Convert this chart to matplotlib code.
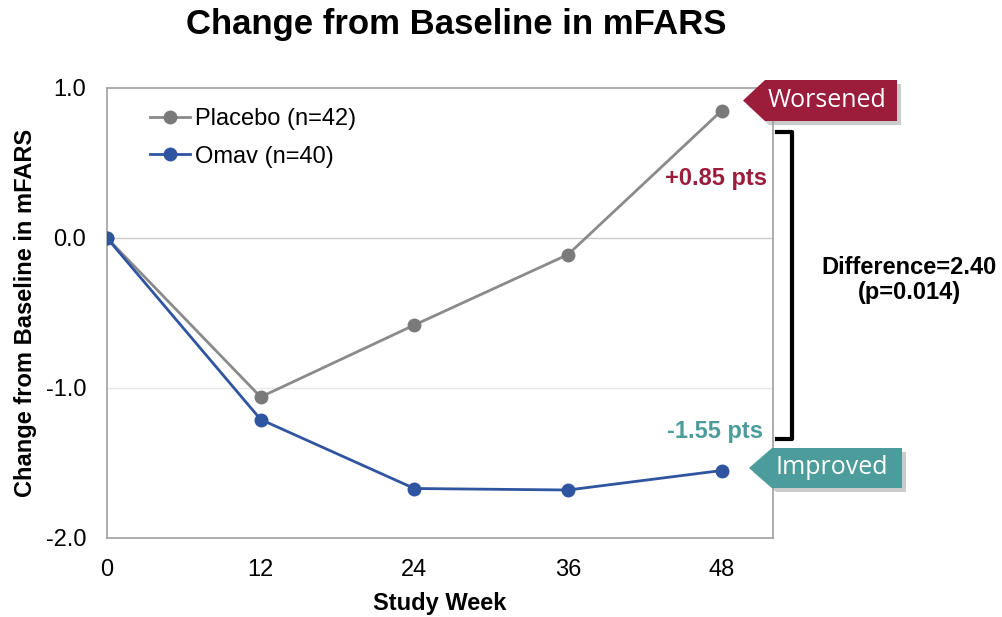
import matplotlib
matplotlib.use("Agg")
import matplotlib.pyplot as plt
from matplotlib.patches import Polygon

plt.rcParams['font.family'] = ['Liberation Sans', 'DejaVu Sans']

# data
weeks = [0, 12, 24, 36, 48]
placebo = [0.0, -1.06, -0.58, -0.11, 0.85]
omav = [0.0, -1.21, -1.67, -1.68, -1.55]
yticks = [1.0, 0.0, -1.0, -2.0]
W, H = 1003, 617

fig = plt.figure(figsize=(W / 100, H / 100), dpi=100)
ax = fig.add_axes([107 / W, 1 - 538 / H, (773 - 107) / W, (538 - 88) / H])

ax.plot(weeks, placebo, color='#8a8a8a', lw=2, marker='o', ms=9,
        mfc='#7a7a7a', mec='#7a7a7a', label='Placebo (n=42)', zorder=3)
ax.plot(weeks, omav, color='#2f54a0', lw=2, marker='o', ms=9,
        mfc='#2f54a0', mec='#2f54a0', label='Omav (n=40)', zorder=4)

ax.set_xlim(0, 52)
ax.set_ylim(-2.0, 1.0)
ax.set_xticks([0, 12, 24, 36, 48])
ax.set_yticks(yticks)
ax.set_yticklabels(['%.1f' % v for v in yticks])
ax.tick_params(length=0, labelsize=17)
ax.tick_params(axis='y', pad=15)
ax.tick_params(axis='x', pad=15)
ax.axhline(0, color='#cccccc', lw=1, zorder=1)
ax.axhline(-1, color='#e8e8e8', lw=1, zorder=1)
for s in ax.spines.values():
    s.set_color('#a0a0a0')
    s.set_linewidth(1.2)

ax.set_xlabel('Study Week', fontsize=17, fontweight='bold', labelpad=8)
ax.set_ylabel('Change from Baseline in mFARS', fontsize=17, fontweight='bold', labelpad=6)
fig.suptitle('Change from Baseline in mFARS', fontsize=25, fontweight='bold', x=456 / W, y=1 - 8 / H, va='top')

ax.legend(loc='upper left', bbox_to_anchor=(0.065, 0.955), frameon=False, fontsize=17,
          handlelength=1.7, handletextpad=0.2, labelspacing=0.65, borderaxespad=0,
          borderpad=0)

ax.text(0.991, 0.80, '+0.85 pts', transform=ax.transAxes, ha='right', va='center',
        color='#9c1c3c', fontsize=17, fontweight='bold')
ax.text(0.985, 0.236, '-1.55 pts', transform=ax.transAxes, ha='right', va='center',
        color='#4b9c9a', fontsize=17, fontweight='bold')


def px(x, y):
    return (x / W, 1 - y / H)


def callout(x0, x1, y0, y1, tip, color, text, tx):
    ym = (y0 + y1) / 2
    pts = [px(tip, ym), px(x0, y0), px(x1, y0), px(x1, y1), px(x0, y1)]
    sh = [(a + 4 / W, b - 4 / H) for a, b in pts]
    fig.patches.append(Polygon(sh, closed=True, transform=fig.transFigure,
                               fc='#999999', ec='none', alpha=0.5))
    fig.patches.append(Polygon(pts, closed=True, transform=fig.transFigure,
                               fc=color, ec='none'))
    fig.text(tx / W, 1 - ym / H, text, ha='center', va='center',
             color='white', fontsize=18, family=['Open Sans', 'DejaVu Sans'])


callout(765, 897, 80, 121, 743, '#9c1c3c', 'Worsened', 827)
callout(772, 902, 448, 488, 749, '#4b9c9a', 'Improved', 832)

# bracket
bx = [px(777, 132), px(792, 132), px(792, 439), px(777, 439)]
fig.lines.append(plt.Line2D([p[0] for p in bx], [p[1] for p in bx],
                            transform=fig.transFigure, color='black', lw=3))

fig.text(909 / W, 1 - 268 / H, 'Difference=2.40', ha='center', va='center',
         fontsize=17, fontweight='bold')
fig.text(909 / W, 1 - 292 / H, '(p=0.014)', ha='center', va='center',
         fontsize=17, fontweight='bold')

fig.savefig('out.png', dpi=100)
